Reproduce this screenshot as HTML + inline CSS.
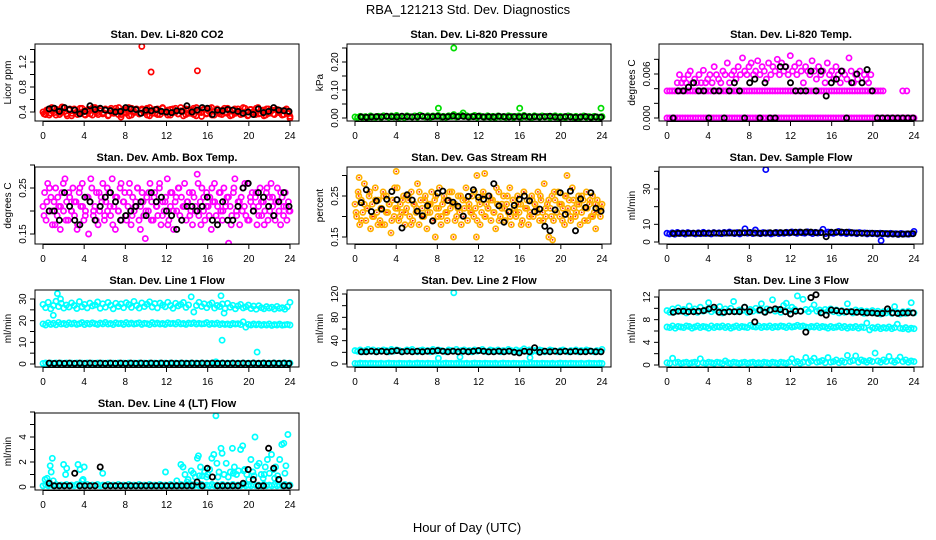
<!DOCTYPE html>
<html><head><meta charset="utf-8">
<style>
html,body{margin:0;padding:0;background:#fff;}
svg{display:block;font-family:"Liberation Sans",sans-serif;}
</style></head>
<body>
<svg id="chart" width="936" height="540" viewBox="0 0 936 540" xmlns="http://www.w3.org/2000/svg">
<rect width="936" height="540" fill="#fff"/>
<text x="468" y="14" text-anchor="middle" font-size="13">RBA_121213  Std. Dev. Diagnostics</text>
<text x="467" y="532" text-anchor="middle" font-size="13">Hour of Day (UTC)</text>
</svg>
<script>
// ---- data ----
const xTicks = [0,4,8,12,16,20,24];
const xTickLabels = ["0","4","8","12","16","20","24"];

const co2Red = [0.40,0.36,0.44,0.38,0.46,0.35,0.42,0.39,0.47,0.37,0.43,0.34,0.45,0.40,0.38,0.46,0.36,0.41,0.44,0.35,0.47,0.39,0.42,0.37,0.45,0.34,0.43,0.40,0.46,0.36,0.32,0.44,0.38,0.47,0.35,0.41,0.45,0.37,0.43,0.39,0.46,0.34,0.42,0.38,0.45,0.36,0.47,0.40,0.35,0.44,0.39,0.46,0.37,0.42,0.34,0.45,0.38,0.43,0.36,0.47,0.40,0.33,0.44,0.38,0.46,0.35,0.41,0.45,0.37,0.43,0.39,0.46,0.34,0.42,0.38,0.45,0.36,0.47,0.40,0.35,0.44,0.39,0.46,0.37,0.42,0.34,0.45,0.38,0.43,0.36,0.44,0.40,0.35,0.43,0.38,0.33];
const co2Red2 = [0.37,0.43,0.35,0.47,0.39,0.44,0.36,0.48,0.41,0.34,0.45,0.38,0.43,0.36,0.46,0.40,0.35,0.44,0.37,0.47,0.41,0.36,0.45,0.39,0.43,0.35,0.46,0.38,0.42,0.47,0.36,0.40,0.44,0.34,0.46,0.39,0.43,0.37,0.45,0.41,0.35,0.47,0.38,0.44,0.36,0.42,0.46,0.39,0.43,0.35,0.45,0.40,0.37,0.47,0.42,0.36,0.44,0.38,0.46,0.34,0.43,0.39,0.45,0.37,0.41,0.47,0.35,0.44,0.40,0.36,0.46,0.38,0.43,0.35,0.45,0.39,0.42,0.37,0.46,0.34,0.44,0.40,0.36,0.47,0.38,0.43,0.35,0.45,0.41,0.37,0.44,0.39,0.42,0.36,0.45,0.38];
const co2OutHours = [9.6,10.5,15.0,24.0];
const co2OutVals = [1.45,1.04,1.06,0.30];
const co2Black = [0.45,0.46,0.41,0.47,0.44,0.43,0.37,0.41,0.50,0.44,0.46,0.43,0.42,0.40,0.41,0.47,0.45,0.44,0.38,0.43,0.42,0.44,0.41,0.40,0.39,0.42,0.41,0.50,0.40,0.43,0.47,0.46,0.36,0.43,0.42,0.44,0.43,0.41,0.38,0.40,0.36,0.45,0.39,0.41,0.47,0.43,0.42,0.41];

const presGreen = [0.004,0.002,0.006,0.003,0.005,0.002,0.007,0.004,0.003,0.006,0.002,0.008,0.005,0.003,0.007,0.004,0.009,0.003,0.006,0.002,0.008,0.005,0.004,0.007,0.003,0.010,0.006,0.004,0.008,0.003,0.007,0.005,0.009,0.004,0.006,0.003,0.008,0.005,0.012,0.004,0.007,0.010,0.005,0.008,0.004,0.006,0.009,0.003,0.007,0.005,0.004,0.008,0.003,0.006,0.002,0.007,0.004,0.005,0.003,0.008,0.006,0.002,0.005,0.007,0.003,0.009,0.004,0.006,0.002,0.008,0.005,0.003,0.007,0.004,0.006,0.002,0.005,0.008,0.003,0.006,0.004,0.002,0.007,0.005,0.003,0.006,0.002,0.004,0.007,0.003,0.005,0.002,0.006,0.004,0.003,0.005];
const presOutHours = [8.1,9.6,16.0,23.9,10.5];
const presOutVals = [0.035,0.250,0.035,0.035,0.018];
const presBlack = [0.004,0.003,0.004,0.005,0.004,0.006,0.005,0.004,0.006,0.005,0.004,0.005,0.006,0.004,0.005,0.006,0.004,0.005,0.007,0.005,0.006,0.004,0.005,0.006,0.004,0.005,0.004,0.006,0.005,0.004,0.005,0.004,0.006,0.004,0.005,0.004,0.005,0.006,0.004,0.003,0.005,0.004,0.003,0.004,0.005,0.003,0.004,0.003];

const tempZero = [0,0,0,0,0,0,0,0,0,0,0,0,0,0,0,0,0,0,0,0,0,0,0,0,0,0,0,0,0,0,0,0,0,0,0,0,0,0,0,0,0,0,0,0,0,0,0,0,0,0,0,0,0,0,0,0,0,0,0,0,0,0,0,0,0,0,0,0,0,0,0,0,0,0,0,0,0,0,0,0,0,0,0,0,0,0,0,0,0,0,0,0,0,0,0,0];
const tempLevel = [0.0037,0.0037,0.0037,0.0037,0.0037,0.0037,0.0037,0.0037,0.0037,0.0037,0.0037,0.0037,0.0037,0.0037,0.0037,0.0037,0.0037,0.0037,0.0037,0.0037,0.0037,0.0037,0.0037,0.0037,0.0037,0.0037,0.0037,0.0037,0.0037,0.0037,0.0037,0.0037,0.0037,0.0037,0.0037,0.0037,0.0037,0.0037,0.0037,0.0037,0.0037,0.0037,0.0037,0.0037,0.0037,0.0037,0.0037,0.0037,0.0037,0.0037,0.0037,0.0037,0.0037,0.0037,0.0037,0.0037,0.0037,0.0037,0.0037,0.0037,0.0037,0.0037,0.0037,0.0037,0.0037,0.0037,0.0037,0.0037,0.0037,0.0037,0.0037,0.0037,0.0037,0.0037,0.0037,0.0037,0.0037,0.0037,0.0037,0.0037,0.0037,0.0037,0.0037,0.0037,0.0037];
const tempLateHours = [22.9,23.3];
const tempLateVals = [0.0037,0.0037];
const tempCloud = [0.0048,0.0059,0.0048,0.0053,0.0048,0.0059,0.0064,0.0048,0.0053,0.0048,0.0059,0.0048,0.0065,0.0048,0.0053,0.0059,0.0048,0.0070,0.0059,0.0053,0.0048,0.0064,0.0059,0.0075,0.0048,0.0059,0.0064,0.0053,0.0070,0.0059,0.0082,0.0064,0.0059,0.0070,0.0075,0.0059,0.0064,0.0078,0.0059,0.0070,0.0064,0.0053,0.0075,0.0059,0.0070,0.0064,0.0080,0.0059,0.0075,0.0064,0.0070,0.0059,0.0085,0.0064,0.0070,0.0059,0.0075,0.0064,0.0048,0.0070,0.0064,0.0059,0.0078,0.0064,0.0053,0.0070,0.0059,0.0064,0.0048,0.0075,0.0059,0.0064,0.0053,0.0070,0.0059,0.0048,0.0064,0.0059,0.0053,0.0082,0.0064,0.0048,0.0059,0.0053,0.0064,0.0048,0.0059,0.0053,0.0048,0.0059];
const tempBlack = [0,0.0037,0.0037,0.0042,0.0048,0.0037,0.0037,0,0.0037,0.0037,0,0.0037,0.0048,0.0037,0,0.0048,0.0053,0,0.0048,0,0,0.0070,0.0070,0.0048,0.0037,0.0037,0.0037,0.0064,0.0037,0.0064,0.0030,0.0048,0.0053,0.0064,0,0.0048,0.0060,0.0048,0.0066,0.0037,0,0,0,0,0,0,0,0];

const ambMag = [.21,.24,.18,.26,.20,.23,.17,.22,.25,.19,.21,.16,.24,.20,.27,.22,.18,.23,.20,.25,.19,.22,.17,.24,.21,.26,.18,.20,.23,.15,.22,.25,.19,.21,.24,.17,.20,.23,.26,.18,.22,.20,.24,.19,.27,.21,.16,.23,.20,.25,.18,.22,.24,.19,.21,.26,.17,.23,.20,.22,.25,.18,.21,.24,.19,.14,.23,.20,.26,.22,.18,.24,.21,.19,.25,.17,.22,.20,.23,.27,.18,.21,.24,.16,.22,.20,.25,.19,.23,.21,.26,.18,.22,.24,.20,.17,.23,.21,.28,.19,.22,.25,.20,.18,.24,.21,.23,.16,.22,.26,.19,.21,.24,.20,.18,.25,.22,.23,.13,.21,.19,.24,.27,.20,.22,.17,.23,.25,.21,.19,.26,.18,.22,.24,.20,.23,.17,.21,.25,.19,.22,.20,.24,.18,.23,.26,.21,.19,.22,.25,.20,.17,.23,.21,.24,.18,.22,.20];
const ambMag2 = [.19,.22,.25,.20,.17,.23,.21,.26,.18,.24,.20,.22,.16,.25,.21,.19,.23,.27,.20,.18,.24,.22,.19,.25,.21,.17,.23,.20,.26,.22,.18,.24,.19,.21,.25,.16,.22,.20,.24,.18,.23,.21,.26,.19,.22,.17,.24,.20,.23,.25,.18,.21,.22,.19,.24,.20,.26,.17,.23,.21,.19,.25,.22,.18,.24,.20,.21,.23,.17,.25,.19,.22,.20,.26,.18,.23,.21,.24,.19,.22,.17,.25,.20,.23,.18,.22,.24,.19,.21,.20];
const ambBlack = [.20,.20,.18,.24,.21,.18,.17,.23,.22,.18,.21,.23,.24,.22,.18,.19,.20,.21,.22,.19,.24,.22,.23,.20,.19,.16,.18,.21,.21,.20,.21,.23,.18,.17,.22,.18,.18,.21,.25,.26,.20,.24,.23,.21,.19,.22,.24,.21];

const rhOrange = [.23,.20,.26,.18,.24,.21,.28,.19,.22,.25,.17,.23,.20,.27,.21,.24,.19,.22,.26,.18,.25,.21,.23,.16,.24,.20,.22,.27,.19,.23,.21,.25,.18,.22,.24,.20,.26,.19,.23,.21,.28,.18,.24,.22,.20,.25,.17,.23,.21,.26,.19,.24,.22,.20,.27,.18,.23,.25,.21,.19,.24,.22,.26,.15,.23,.20,.25,.21,.18,.24,.22,.27,.19,.23,.21,.25,.20,.22,.30,.24,.18,.21,.26,.20,.23,.22,.25,.19,.24,.21,.17,.23,.26,.20,.22,.25,.19,.23,.21,.27,.18,.24,.22,.20,.25,.21,.23,.19,.26,.22,.24,.18,.21,.25,.20,.23,.22,.26,.19,.24,.21,.28,.20,.23,.15,.22,.25,.19,.24,.21,.26,.20,.23,.22,.18,.25,.21,.24,.19,.27,.22,.20,.23,.25,.18,.21,.24,.22,.26,.19,.23,.20,.25,.21,.17,.24,.22,.20,.23];
const rhOrange2 = [.21,.25,.19,.23,.22,.26,.20,.24,.18,.22,.25,.21,.23,.19,.27,.22,.20,.24,.21,.25,.18,.23,.22,.26,.20,.24,.21,.23,.19,.25,.22,.20,.24,.21,.26,.23,.19,.22,.25,.20,.24,.22,.21,.26,.19,.23,.25,.20,.22,.24,.21,.27,.19,.23,.22,.25,.20,.24,.21,.23,.18,.26,.22,.20,.24,.23,.21,.25,.19,.22,.24,.20,.26,.21,.23,.19,.25,.22,.20,.24,.21,.23,.25,.19,.22,.24,.20,.23,.21,.22];
const rhOutHours = [4.0,12.6,20.6,0.4,7.8,11.8,19.2,2.6];
const rhOutVals = [0.31,0.305,0.30,0.295,0.15,0.15,0.143,0.18];
const rhBlack = [.234,.265,.212,.238,.218,.242,.261,.241,.172,.253,.240,.213,.202,.226,.189,.257,.262,.239,.235,.225,.201,.249,.265,.247,.242,.250,.280,.226,.186,.212,.227,.242,.250,.238,.212,.218,.176,.165,.216,.258,.205,.262,.165,.243,.222,.258,.220,.213];

const sfBlue = [5.0,4.6,5.2,4.4,5.4,4.8,5.1,4.5,5.3,4.9,5.0,4.6,5.2,4.7,5.5,4.8,5.1,4.6,5.3,4.9,5.2,4.7,5.4,5.0,5.6,5.1,4.8,5.3,4.6,5.2,7.5,5.0,5.4,4.8,6.8,5.1,4.7,5.3,4.9,5.2,4.6,5.0,5.4,4.8,5.2,4.9,5.5,5.1,5.7,5.3,4.9,5.6,5.2,5.0,5.8,5.4,4.8,5.5,5.1,5.3,7.2,4.8,5.6,5.2,4.9,5.5,6.0,5.1,5.4,4.8,5.6,5.0,5.2,4.7,5.3,4.9,5.1,4.6,5.0,4.7,4.9,4.5,5.0,4.6,4.8,4.4,4.9,4.5,4.7,4.3,4.8,4.5,4.6,4.4,4.7,6.0];
const sfOutHours = [9.6,20.8];
const sfOutVals = [41.0,0.8];
const sfBlack = [4.8,4.9,5.0,4.9,5.0,4.9,5.0,5.0,5.1,5.0,5.1,5.1,5.1,5.2,5.2,5.3,5.1,5.0,5.1,5.2,5.2,5.3,5.3,5.4,5.5,5.5,5.6,5.6,5.3,5.4,3.0,5.5,5.5,5.6,5.5,5.3,5.1,5.0,4.9,4.9,4.8,4.8,4.7,4.6,4.5,4.5,4.6,4.7];

const l1Upper = [27.5,26.0,28.5,25.5,27.0,29.0,26.5,28.0,25.8,27.2,26.3,28.2,27.0,25.6,28.8,26.4,27.5,25.9,28.1,26.8,27.3,28.6,25.7,27.8,26.2,28.4,27.1,25.5,28.0,26.6,27.7,26.0,28.3,27.4,26.1,28.9,27.0,25.8,28.2,26.5,27.6,28.7,26.3,27.9,25.9,28.1,27.2,26.4,28.5,27.0,25.7,28.0,26.8,27.5,28.4,26.1,27.3,31.0,24.0,27.0,28.5,26.6,27.8,26.0,27.4,28.2,25.8,27.0,26.5,27.7,25.6,28.0,26.2,27.1,25.5,26.8,27.5,25.9,26.4,27.2,25.6,26.7,25.3,26.9,26.0,25.5,26.5,25.8,26.2,25.4,26.6,25.7,26.0,25.3,26.4,28.5];
const l1Mid = [18.5,18.0,19.0,18.3,18.8,18.1,19.2,18.4,18.7,18.2,19.0,18.5,18.9,18.3,18.6,19.1,18.2,18.8,18.4,19.0,18.6,18.3,18.9,18.5,19.2,18.4,18.7,18.2,19.0,18.6,18.8,18.3,19.1,18.5,18.9,18.4,18.7,19.0,18.3,18.8,18.6,18.2,19.1,18.5,18.9,18.4,18.7,18.3,19.0,18.6,18.8,18.4,19.2,18.5,18.7,18.3,18.9,18.6,19.0,18.4,18.8,18.5,18.6,19.1,18.3,18.7,18.4,18.9,18.2,18.6,18.3,18.5,18.1,18.7,18.4,18.6,18.2,19.5,17.0,18.3,18.0,18.5,18.1,18.4,17.9,18.3,18.0,18.5,17.8,18.2,18.0,18.4,17.9,18.1,18.3,18.0];
const l1Zero = [0.3,0.5,0.2,0.4,0.3,0.5,0.2,0.4,0.3,0.5,0.2,0.4,0.3,0.5,0.2,0.4,0.3,0.5,0.2,0.4,0.3,0.5,0.2,0.4,0.3,0.5,0.2,0.4,0.3,0.5,0.2,0.4,0.3,0.5,0.2,0.4,0.3,0.5,0.2,0.4,0.3,0.5,0.2,0.4,0.3,0.5,0.2,0.4,0.3,0.5,0.2,0.4,0.3,0.5,0.2,0.4,0.3,0.5,0.2,0.4,0.3,0.5,0.2,0.4,0.3,0.5,0.2,0.4,0.3,0.5,0.2,0.4,0.3,0.5,0.2,0.4,0.3,0.5,0.2,0.4,0.3,0.5,0.2,0.4,0.3,0.5,0.2,0.4,0.3,0.5,0.2,0.4,0.3,0.5,0.2,0.4];
const l1OutHours = [1.0,1.4,1.7,17.3,17.4,17.6,20.8,16.8];
const l1OutVals = [22.5,32.5,30.0,31.5,11.0,23.5,5.5,1.0];
const l1Black = [0.4,0.3,0.4,0.3,0.4,0.3,0.4,0.3,0.4,0.3,0.4,0.3,0.4,0.3,0.4,0.3,0.4,0.3,0.4,0.3,0.4,0.3,0.4,0.3,0.4,0.3,0.4,0.3,0.4,0.3,0.4,0.3,0.4,0.3,0.4,0.3,0.4,0.3,0.4,0.3,0.4,0.3,0.4,0.3,0.4,0.3,0.4,0.3];

const l2Cyan = [23,22,24,21,23,25,22,24,21,23,22,24,23,21,25,22,24,23,21,22,24,23,25,22,21,23,24,22,23,21,25,22,24,23,22,21,24,23,22,25,21,23,24,22,23,21,24,22,23,25,22,21,24,23,22,24,21,23,22,25,23,21,24,22,23,26,22,24,21,23,22,24,23,21,22,24,23,22,21,23,24,22,21,23,22,24,21,23,22,24,23,22,21,23,22,25];
const l2Zero = [1,0.5,1.5,0.8,1.2,0.6,1.4,0.9,1.1,0.7,1.3,0.5,1.0,1.5,0.8,1.2,0.6,1.4,0.9,1.1,0.7,1.3,0.5,1.0,1.5,0.8,1.2,0.6,1.4,0.9,1.1,0.7,1.3,0.5,1.0,1.5,0.8,1.2,0.6,1.4,0.9,1.1,0.7,1.3,0.5,1.0,1.5,0.8,1.2,0.6,1.4,0.9,1.1,0.7,1.3,0.5,1.0,1.5,0.8,1.2,0.6,1.4,0.9,1.1,0.7,1.3,0.5,1.0,1.5,0.8,1.2,0.6,1.4,0.9,1.1,0.7,1.3,0.5,1.0,1.5,0.8,1.2,0.6,1.4,0.9,1.1,0.7,1.3,0.5,1.0,1.5,0.8,1.2,0.6,1.4,0.9];
const l2OutHours = [9.6,8.1,10.2,17.0];
const l2OutVals = [122,10,12,11];
const l2Black = [21,21,22,21,22,21,22,23,21,22,21,22,21,22,22,23,22,21,22,21,22,21,22,23,22,21,21,22,21,22,20,19,22,21,28,20,22,21,22,21,22,21,22,21,21,22,21,21];

const l3High = [9.6,9.3,9.9,9.4,10.1,9.5,9.8,9.2,10.4,9.6,9.9,9.3,10.2,9.5,9.7,11.0,9.4,9.8,9.6,10.3,9.2,9.9,9.5,10.0,11.2,9.4,9.7,9.6,10.2,9.3,9.8,9.5,10.0,9.6,10.8,9.4,9.9,9.7,11.5,9.5,9.8,9.3,10.5,10.9,9.6,10.2,9.8,12.2,9.5,11.6,9.8,9.4,9.9,10.6,9.5,9.7,9.3,9.8,9.5,9.9,9.4,9.7,9.2,9.6,9.3,10.8,9.5,9.2,9.7,9.4,9.6,9.1,9.5,9.3,9.6,9.2,9.5,9.0,9.4,9.2,9.5,9.1,10.3,9.3,9.0,9.4,9.1,9.5,11.0,9.2];
const l3Mid = [6.7,6.6,6.9,6.5,6.8,6.7,6.6,6.9,6.8,6.5,6.7,6.9,6.6,6.8,6.7,6.5,6.9,6.6,6.8,6.7,6.9,6.6,6.8,6.5,6.7,6.9,6.6,6.8,6.7,6.6,7.0,6.8,6.7,6.9,6.6,6.8,6.7,6.9,6.6,6.8,6.7,6.9,6.8,6.6,6.9,6.7,6.8,7.0,6.8,6.9,6.7,6.6,6.8,6.7,6.9,6.6,6.8,6.7,6.5,6.8,6.6,6.7,6.9,6.6,6.8,6.5,6.7,6.6,6.8,6.5,6.7,6.6,7.4,6.2,6.6,6.5,6.7,6.4,6.6,6.5,6.7,6.4,6.6,7.2,6.5,6.4,6.6,6.3,6.5,6.4];
const l3Low = [0.4,0.3,1.2,0.4,0.5,0.3,0.4,0.5,0.3,0.4,0.5,0.3,1.1,0.4,0.3,0.5,0.4,0.3,0.5,0.4,0.3,0.7,0.4,0.3,0.5,0.4,0.3,0.4,0.5,0.3,0.4,0.5,0.3,0.4,0.3,0.5,0.4,0.3,0.5,0.4,0.3,0.5,0.4,0.3,0.5,1.1,0.4,0.6,0.3,0.5,1.3,0.4,0.7,1.2,0.5,0.6,0.8,0.4,1.3,0.5,0.6,0.9,0.4,0.7,0.5,1.7,0.6,0.8,1.6,0.5,0.9,0.7,0.5,0.8,0.6,2.1,0.7,0.5,0.9,0.6,1.5,0.7,0.5,0.8,1.4,0.6,0.9,0.5,0.7,0.6];
const l3Black = [9.3,9.5,9.5,9.4,9.4,9.5,9.6,9.9,10.2,9.3,9.3,9.4,9.4,9.4,10.2,9.4,7.6,9.7,9.3,9.7,9.9,9.8,9.4,9.0,9.5,9.5,5.8,11.9,12.4,9.2,8.8,9.7,9.6,9.5,9.4,9.4,9.3,9.3,9.2,9.2,9.1,9.1,9.9,9.2,9.1,9.2,9.2,9.2];

const l4Base = [0.1,0.2,0.1,0.15,0.1,0.2,0.1,0.15,0.1,0.2,0.1,0.15,0.1,0.2,0.1,0.15,0.1,0.2,0.1,0.15,0.1,0.2,0.1,0.15,0.1,0.2,0.1,0.15,0.1,0.2,0.1,0.15,0.1,0.2,0.1,0.15,0.1,0.2,0.1,0.15,0.1,0.2,0.1,0.15,0.1,0.2,0.1,0.15,0.1,0.2,0.1,0.15,0.1,0.2,0.1,0.15,0.1,0.2,0.1,0.15,0.1,0.2,0.1,0.15,0.1,0.2,0.1,0.15,0.1,0.2,0.1,0.15,0.1,0.2,0.1,0.15,0.1,0.2,0.1,0.15,0.1,0.2,0.1,0.15,0.1,0.2,0.1,0.15,0.1,0.2,0.1,0.15,0.1,0.2,0.1,0.15];
const l4ScatterHours = [0.2,0.4,0.6,0.7,0.8,0.9,1.0,2.0,2.2,2.3,3.4,3.6,3.8,3.9,4.0,5.8,11.9,13.0,13.4,13.6,13.8,14.1,14.4,14.6,14.8,15.0,15.1,15.3,15.5,15.7,15.9,16.2,16.4,16.6,16.8,16.9,17.1,17.3,17.4,17.6,17.8,18.0,18.2,18.4,18.6,18.8,19.0,19.2,19.4,19.6,19.8,20.0,20.2,20.4,20.6,20.8,21.0,21.2,21.4,21.6,21.8,22.0,22.2,22.4,22.6,22.8,23.0,23.2,23.4,23.6,23.8,14.0,15.2,16.0,17.0,18.5,19.5,20.5,21.5,22.5,23.5];
const l4ScatterVals = [0.6,0.7,0.4,1.7,1.2,2.3,0.5,1.8,1.0,1.5,1.8,1.4,0.5,0.6,1.6,1.1,1.2,0.5,1.8,1.6,1.0,0.6,1.3,1.1,0.8,2.3,2.5,1.6,0.9,1.2,0.8,1.4,2.3,2.6,5.7,1.9,1.2,3.1,2.7,1.0,1.9,0.8,1.2,3.1,1.6,1.0,1.3,3.0,3.3,1.4,1.0,0.6,2.2,1.2,4.0,1.7,1.9,1.0,0.7,1.6,2.2,1.1,2.6,1.4,1.6,0.9,2.2,3.4,3.5,1.7,4.2,0.4,0.9,1.0,0.8,1.1,1.3,0.9,1.0,0.7,1.1];
const l4Black = [0.3,0.1,0.1,0.1,0.1,1.1,0.1,0.1,0.1,0.1,1.6,0.1,0.1,0.1,0.1,0.1,0.1,0.1,0.1,0.1,0.1,0.1,0.1,0.1,0.1,0.1,0.1,0.1,0.1,0.4,0.1,1.5,0.8,0.1,0.1,0.1,0.1,0.1,0.3,1.4,0.6,0.1,0.1,3.1,1.5,0.6,0.1,0.1];

// ---- layout ----
const svg = document.getElementById('chart');
const NS = 'http://www.w3.org/2000/svg';
const colX0 = [43,355,667];
const XSPAN = 247;
const rowTop = [44,167,290,413];
const BOXH = 77;

function mk(tag, attrs, parent){
  const e = document.createElementNS(NS, tag);
  for (const k in attrs) e.setAttribute(k, attrs[k]);
  (parent||svg).appendChild(e);
  return e;
}

const panels = [
 {id:'co2',col:0,row:0,title:'Stan. Dev. Li-820 CO2',ylab:'Licor ppm',v0:0.4,p0:112,v1:1.2,p1:62,ticks:[0.4,0.6,0.8,1.0,1.2,1.4],labels:['0.4','','0.8','','1.2','']},
 {id:'pressure',col:1,row:0,title:'Stan. Dev. Li-820 Pressure',ylab:'kPa',v0:0,p0:118,v1:0.2,p1:62,ticks:[0,0.05,0.1,0.15,0.2,0.25],labels:['0.00','','0.10','','0.20','']},
 {id:'temp',col:2,row:0,title:'Stan. Dev. Li-820 Temp.',ylab:'degrees C',v0:0,p0:118,v1:0.006,p1:74,ticks:[0,0.002,0.004,0.006,0.008],labels:['0.000','','','0.006','']},
 {id:'ambtemp',col:0,row:1,title:'Stan. Dev. Amb. Box Temp.',ylab:'degrees C',v0:0.15,p0:234,v1:0.25,p1:188,ticks:[0.15,0.2,0.25,0.3],labels:['0.15','','0.25','']},
 {id:'rh',col:1,row:1,title:'Stan. Dev. Gas Stream RH',ylab:'percent',v0:0.15,p0:237,v1:0.25,p1:196,ticks:[0.15,0.2,0.25,0.3],labels:['0.15','','0.25','']},
 {id:'sampleflow',col:2,row:1,title:'Stan. Dev. Sample Flow',ylab:'ml/min',v0:0,p0:242,v1:30,p1:189,ticks:[0,10,20,30,40],labels:['0','10','','30','']},
 {id:'line1',col:0,row:2,title:'Stan. Dev. Line 1 Flow',ylab:'ml/min',v0:0,p0:364,v1:30,p1:299,ticks:[0,5,10,15,20,25,30],labels:['0','','10','','20','','30']},
 {id:'line2',col:1,row:2,title:'Stan. Dev. Line 2 Flow',ylab:'ml/min',v0:0,p0:364,v1:120,p1:294,ticks:[0,20,40,60,80,100,120],labels:['0','','40','','80','','120']},
 {id:'line3',col:2,row:2,title:'Stan. Dev. Line 3 Flow',ylab:'ml/min',v0:0,p0:365,v1:12,p1:297,ticks:[0,2,4,6,8,10,12],labels:['0','','4','','8','','12']},
 {id:'line4',col:0,row:3,title:'Stan. Dev. Line 4 (LT) Flow',ylab:'ml/min',v0:0,p0:487,v1:4,p1:437,ticks:[0,1,2,3,4,5,6],labels:['0','','2','','4','','']}
];

function evenHours(n, a, b){ const h=[]; for(let i=0;i<n;i++) h.push(a+(b-a)*i/(n-1)); return h; }

const RED='#ff0000',GREEN='#00dd00',MAG='#ff00ff',ORANGE='#ffb000',BLUE='#0000ff',CYAN='#00ffff',BLACK='#000000';

const series = {
 co2:[[evenHours(co2Red.length,0,24),co2Red,RED],[evenHours(co2Red2.length,0.1,23.9),co2Red2,RED],[co2OutHours,co2OutVals,RED],[evenHours(co2Black.length,0.6,23.9),co2Black,BLACK]],
 pressure:[[evenHours(presGreen.length,0,24),presGreen,GREEN],[presOutHours,presOutVals,GREEN],[evenHours(presBlack.length,0.6,23.9),presBlack,BLACK]],
 temp:[[evenHours(tempZero.length,0,24),tempZero,MAG],[evenHours(tempLevel.length,0,21),tempLevel,MAG],[tempLateHours,tempLateVals,MAG],[evenHours(tempCloud.length,1,19.8),tempCloud,MAG],[evenHours(tempBlack.length,0.6,23.9),tempBlack,BLACK]],
 ambtemp:[[evenHours(ambMag.length,0,24),ambMag,MAG],[evenHours(ambMag2.length,0.1,23.9),ambMag2,MAG],[evenHours(ambBlack.length,0.6,23.9),ambBlack,BLACK]],
 rh:[[evenHours(rhOrange.length,0,24),rhOrange,ORANGE],[evenHours(rhOrange2.length,0.1,23.9),rhOrange2,ORANGE],[rhOutHours,rhOutVals,ORANGE],[evenHours(rhBlack.length,0.6,23.9),rhBlack,BLACK]],
 sampleflow:[[evenHours(sfBlue.length,0,24),sfBlue,BLUE],[sfOutHours,sfOutVals,BLUE],[evenHours(sfBlack.length,0.6,23.9),sfBlack,BLACK]],
 line1:[[evenHours(l1Upper.length,0,24),l1Upper,CYAN],[evenHours(l1Mid.length,0,24),l1Mid,CYAN],[evenHours(l1Zero.length,0,24),l1Zero,CYAN],[l1OutHours,l1OutVals,CYAN],[evenHours(l1Black.length,0.6,23.9),l1Black,BLACK]],
 line2:[[evenHours(l2Cyan.length,0,24),l2Cyan,CYAN],[evenHours(l2Zero.length,0,24),l2Zero,CYAN],[l2OutHours,l2OutVals,CYAN],[evenHours(l2Black.length,0.6,23.9),l2Black,BLACK]],
 line3:[[evenHours(l3High.length,0,24),l3High,CYAN],[evenHours(l3Mid.length,0,24),l3Mid,CYAN],[evenHours(l3Low.length,0,24),l3Low,CYAN],[evenHours(l3Black.length,0.6,23.9),l3Black,BLACK]],
 line4:[[evenHours(l4Base.length,0,24),l4Base,CYAN],[l4ScatterHours,l4ScatterVals,CYAN],[evenHours(l4Black.length,0.6,23.9),l4Black,BLACK]]
};

panels.forEach(p=>{
  const x0 = colX0[p.col];
  const left = x0-8, right = x0+XSPAN+9;
  const top = rowTop[p.row], bottom = top+BOXH;
  const xs = h => x0 + h/24*XSPAN;
  const ys = v => p.p0 + (v-p.v0)*(p.p1-p.p0)/(p.v1-p.v0);
  const g = mk('g',{});
  
  

  const t = mk('text',{x:(left+right)/2,y:top-6,'text-anchor':'middle','font-size':'11','font-weight':'bold'},g);
  t.textContent = p.title;
  
  

  const cid = 'clip-'+p.id;
  const cp = mk('clipPath',{id:cid},g);
  mk('rect',{x:left,y:top,width:right-left,height:BOXH},cp);
  const pg = mk('g',{'clip-path':'url(#'+cid+')'},g);
  
  
  series[p.id].forEach(s=>{
    const [hs, vs, col] = s;
    vs.forEach((v,i)=>{
      const c = mk('circle',{cx:xs(hs[i]).toFixed(1),cy:ys(v).toFixed(1),r:2.6,fill:'none',stroke:col,'stroke-width':col===BLACK?1.8:1.7},pg);
      
      
      if (col===ORANGE){
        const d = mk('circle',{cx:xs(hs[i]).toFixed(1),cy:ys(v).toFixed(1),r:0.9,fill:'#ff2000'},pg);
        
        
      }
    });
  });

  const box = mk('rect',{x:left,y:top,width:right-left,height:BOXH,fill:'none',stroke:'#000','stroke-width':1},g);
  
  

  const xa = mk('g',{},g);
  
  
  mk('line',{x1:xs(xTicks[0]),x2:xs(xTicks[xTicks.length-1]),y1:bottom+0.5,y2:bottom+0.5,stroke:'#000'},xa);
  xTicks.forEach((tv,i)=>{
    mk('line',{x1:xs(tv),x2:xs(tv),y1:bottom,y2:bottom+5,stroke:'#000'},xa);
    const tl = mk('text',{x:xs(tv),y:bottom+18,'text-anchor':'middle','font-size':'10'},xa);
    tl.textContent = xTickLabels[i];
    
    
  });

  const ya = mk('g',{},g);
  
  
  const tks = p.ticks.filter(v=>ys(v)>=top-6);
  mk('line',{x1:left-0.5,x2:left-0.5,y1:ys(tks[0]),y2:ys(tks[tks.length-1]),stroke:'#000'},ya);
  p.ticks.forEach((tv,i)=>{
    const yy = ys(tv);
    if (yy < top-6) return;
    mk('line',{x1:left-5,x2:left,y1:yy,y2:yy,stroke:'#000'},ya);
    if (p.labels[i]){
      const tl = mk('text',{x:left-9,y:yy,'text-anchor':'middle','font-size':'10',transform:'rotate(-90 '+(left-9)+' '+yy+')'},ya);
      tl.textContent = p.labels[i];
      
      
    }
  });
  const yl = mk('text',{x:left-24,y:top+BOXH/2,'text-anchor':'middle','font-size':'10',transform:'rotate(-90 '+(left-24)+' '+(top+BOXH/2)+')'},g);
  yl.textContent = p.ylab;
  
  
});
</script>
</body></html>
